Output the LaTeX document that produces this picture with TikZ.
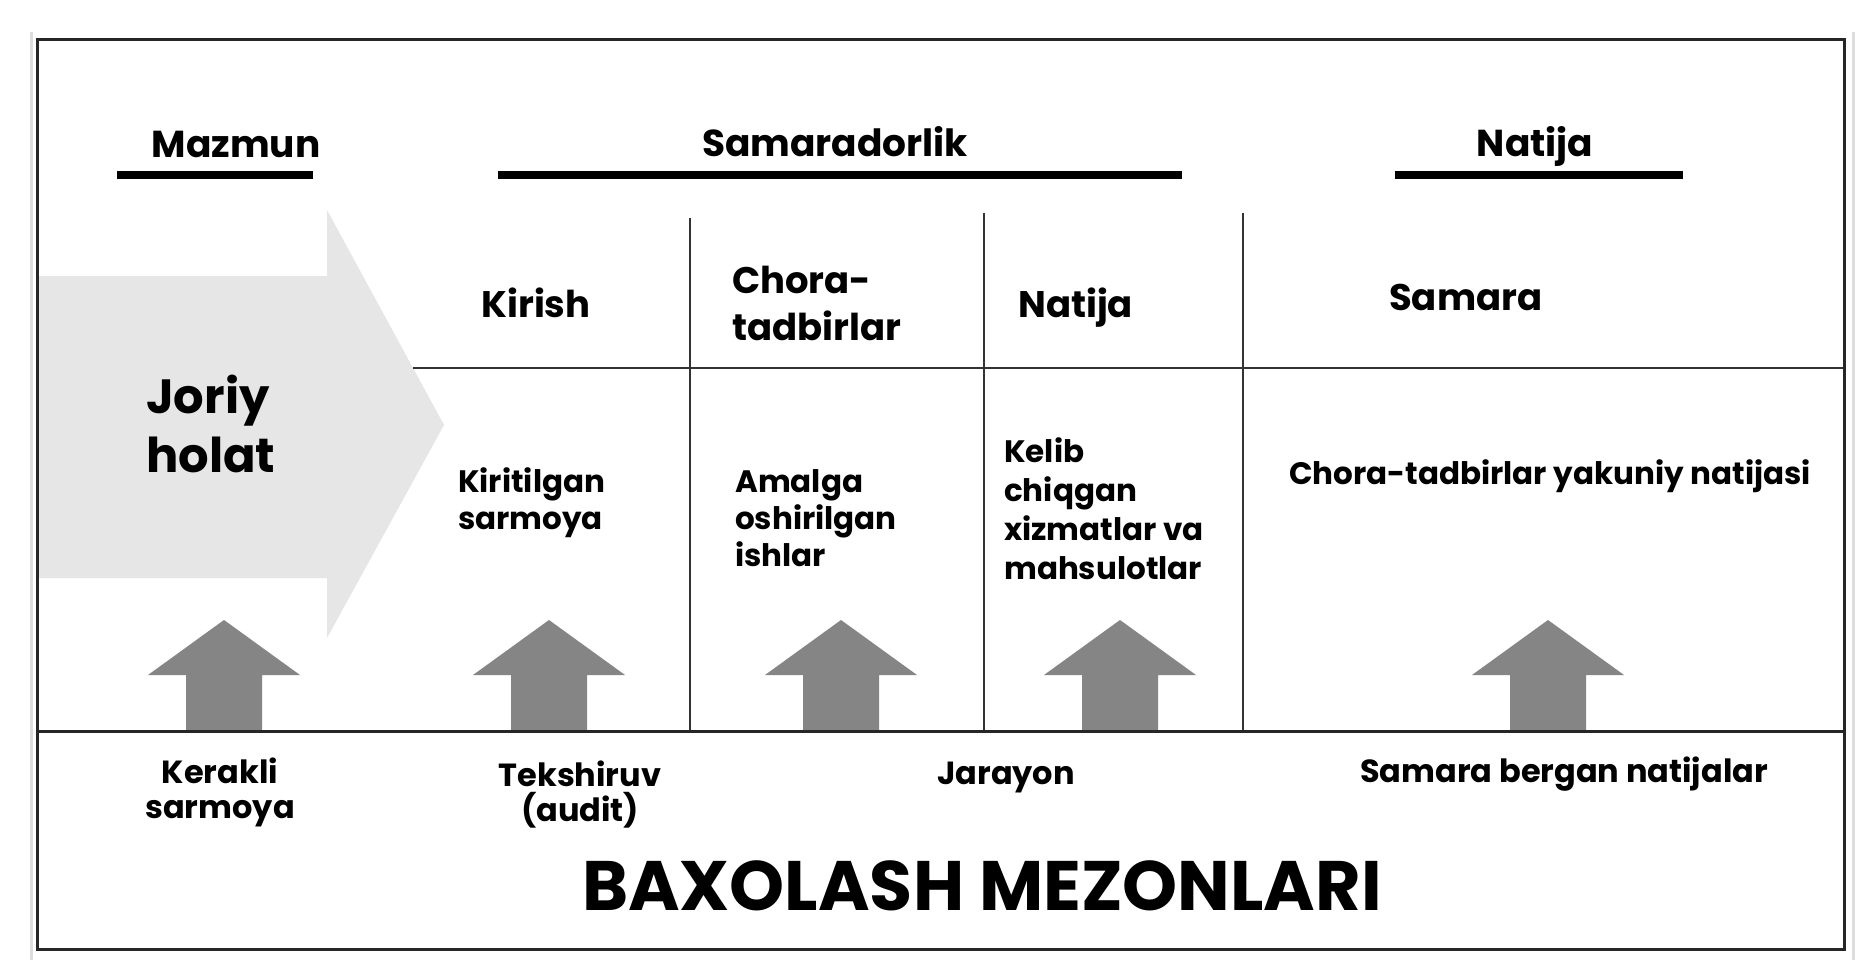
\documentclass[tikz,border=0pt]{standalone}
\usepackage{fontspec}
\setmainfont{Poppins}
\definecolor{biggray}{HTML}{E6E6E6}
\definecolor{arrgray}{HTML}{858585}
\definecolor{shadowgray}{HTML}{DDDDDD}
\tikzset{
  frameline/.style={line width=3pt, draw=black!85},
  divider/.style={line width=2.5pt, draw=black!80},
  headbar/.style={line width=8pt, draw=black},
  hdr/.style={font=\fontsize{37.5}{42}\selectfont\bfseries, inner sep=0pt},
  colh/.style={font=\fontsize{37}{42}\selectfont\bfseries, inner sep=0pt},
  bigtxt/.style={font=\fontsize{48}{56}\selectfont\bfseries, inner sep=0pt},
  bodytxt/.style={font=\fontsize{31}{38}\selectfont\bfseries, inner sep=0pt},
  lowtxt/.style={font=\fontsize{32}{38}\selectfont\bfseries, inner sep=0pt},
  titletxt/.style={font=\fontsize{70}{76}\selectfont\bfseries, inner sep=0pt},
  uparr/.pic={\fill[arrgray] (-38,0) -- (-38,56) -- (-76,56) -- (0,111) -- (76,56) -- (38,56) -- (38,0) -- cycle;}
}
\begin{document}
\begin{tikzpicture}[x=1pt,y=1pt]
\useasboundingbox (0,0) rectangle (1870,-976);
\fill[white] (0,0) rectangle (1870,-976);
% shadow lines
\draw[shadowgray, line width=3pt] (31,-32) -- (31,-960);
\draw[shadowgray, line width=3pt] (1853,-32) -- (1853,-960);
% big arrow
\fill[biggray] (37,-276) -- (327,-276) -- (327,-210) -- (444,-425) -- (327,-638) -- (327,-578) -- (37,-578) -- cycle;
% small arrows
\pic at (224,-731) {uparr};
\pic at (549,-731) {uparr};
\pic at (841,-731) {uparr};
\pic at (1120,-731) {uparr};
\pic at (1548,-731) {uparr};
% grid lines
\draw[divider] (690,-218) -- (690,-731);
\draw[divider] (984,-213) -- (984,-731);
\draw[divider] (1243,-213) -- (1243,-731);
\draw[divider] (413,-368) -- (1844,-368);
\draw[frameline] (37,-731) -- (1844,-731);
\draw[frameline] (37,-40) rectangle (1844,-949);
% header bars
\draw[headbar] (117,-175) -- (313,-175);
\draw[headbar] (498,-175) -- (1182,-175);
\draw[headbar] (1395,-175) -- (1683,-175);
% header texts
\node[hdr, anchor=base] (mazmun) at (236,-158) {Mazmun};
\node[hdr, anchor=base] (samarador) at (835,-157) {Samaradorlik};
\node[hdr, anchor=base] (natijatop) at (1535,-157) {Natija};
% column headers
\node[colh, anchor=base] (kirish) at (536,-317) {Kirish};
\node[colh, anchor=base west] (chora1) at (732,-293) {Chora-};
\node[colh, anchor=base west] (chora2) at (732,-340) {tadbirlar};
\node[colh, anchor=base west] (natijacol) at (1018,-317) {Natija};
\node[colh, anchor=base west] (samara) at (1389,-310) {Samara};
% Joriy holat
\node[bigtxt, anchor=base west] (joriy) at (146,-413) {Joriy};
\node[bigtxt, anchor=base west] (holat) at (146,-472) {holat};
% body texts
\node[bodytxt, anchor=base west] (kirit1) at (458,-492) {Kiritilgan};
\node[bodytxt, anchor=base west] (kirit2) at (458,-529) {sarmoya};
\node[bodytxt, anchor=base west] (amal1) at (735,-492) {Amalga};
\node[bodytxt, anchor=base west] (amal2) at (735,-529) {oshirilgan};
\node[bodytxt, anchor=base west] (amal3) at (735,-566) {ishlar};
\node[bodytxt, anchor=base west] (kelib1) at (1004,-462) {Kelib};
\node[bodytxt, anchor=base west] (kelib2) at (1004,-501) {chiqgan};
\node[bodytxt, anchor=base west] (kelib3) at (1004,-540) {xizmatlar va};
\node[bodytxt, anchor=base west] (kelib4) at (1004,-579) {mahsulotlar};
\node[bodytxt, anchor=base] (yakuniy) at (1550,-484) {Chora-tadbirlar yakuniy natijasi};
% bottom labels
\node[lowtxt, anchor=base] (kerak1) at (220,-783) {Kerakli};
\node[lowtxt, anchor=base] (kerak2) at (220,-818) {sarmoya};
\node[lowtxt, anchor=base] (teksh1) at (580,-786) {Tekshiruv};
\node[lowtxt, anchor=base] (teksh2) at (580,-821) {(audit)};
\node[lowtxt, anchor=base] (jarayon) at (1006,-784) {Jarayon};
\node[lowtxt, anchor=base] (samberg) at (1564,-782) {Samara bergan natijalar};
% title
\node[titletxt, anchor=base] (title) at (982,-910) {BAXOLASH MEZONLARI};
\end{tikzpicture}
\end{document}
